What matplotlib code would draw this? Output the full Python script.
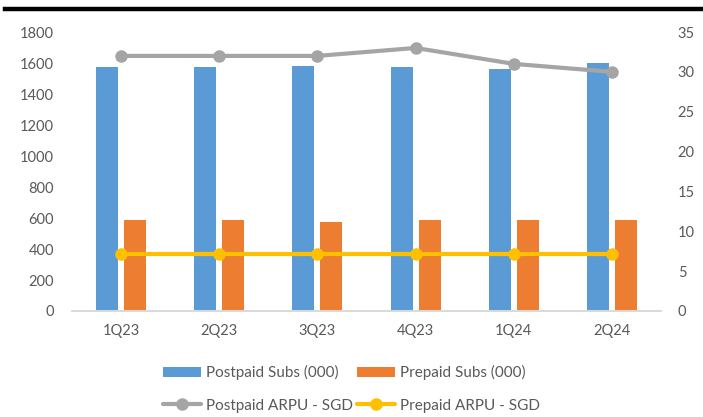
import matplotlib

matplotlib.use("Agg")
import matplotlib.pyplot as plt
import numpy as np
from matplotlib.lines import Line2D

quarters = ["1Q23", "2Q23", "3Q23", "4Q23", "1Q24", "2Q24"]
postpaid_subs = [1572, 1572, 1578, 1572, 1562, 1598]
prepaid_subs = [590, 590, 573, 585, 585, 590]
postpaid_arpu = [32, 32, 32, 33, 31, 30]
prepaid_arpu = [7.1, 7.1, 7.1, 7.1, 7.1, 7.1]

BLUE = "#5B9BD5"
ORANGE = "#ED7D31"
GREY = "#A5A5A5"
YELLOW = "#FFC000"
TEXT = "#595959"

plt.rcParams["font.family"] = ["Lato", "DejaVu Sans"]

fig = plt.figure(figsize=(7.03, 4.17), dpi=100)
ax = fig.add_axes([72 / 703, 1 - 311 / 417, (661 - 72) / 703, (311 - 32) / 417])
ax2 = ax.twinx()

x = np.arange(len(quarters))
width = 0.224
offset = 0.142
ax.bar(x - offset, postpaid_subs, width, color=BLUE, label="Postpaid Subs (000)")
ax.bar(x + offset, prepaid_subs, width, color=ORANGE, label="Prepaid Subs (000)")

ax2.plot(x, postpaid_arpu, color=GREY, lw=3, marker="o", ms=8,
         solid_capstyle="round", label="Postpaid ARPU - SGD")
ax2.plot(x, prepaid_arpu, color=YELLOW, lw=3, marker="o", ms=8,
         solid_capstyle="round", label="Prepaid ARPU - SGD")

ax.set_xlim(-0.5, len(quarters) - 0.5)
ax.set_ylim(0, 1800)
ax.set_yticks(range(0, 1801, 200))
ax2.set_ylim(0, 35)
ax2.set_yticks(range(0, 36, 5))
ax.set_xticks(x, quarters)

for a in (ax, ax2):
    for side in ("top", "left", "right"):
        a.spines[side].set_visible(False)
    a.spines["bottom"].set_color("#D9D9D9")
    a.spines["bottom"].set_linewidth(1.2)
    a.tick_params(length=0, labelsize=10.5, labelcolor=TEXT)
ax.tick_params(axis="y", pad=13)
ax.tick_params(axis="x", pad=9)
ax2.tick_params(axis="y", pad=12)

# legend: bars on the first row, lines on the second
h1, l1 = ax.get_legend_handles_labels()
h2, l2 = ax2.get_legend_handles_labels()
handles = [h1[0], h2[0], h1[1], h2[1]]
labels = [l1[0], l2[0], l1[1], l2[1]]
fig.legend(handles, labels, ncol=2, loc="center", bbox_to_anchor=(0.5, 1 - 389 / 417),
           frameon=False, fontsize=11, labelcolor=TEXT, handlelength=2.5,
           handletextpad=0.3, columnspacing=0.3, labelspacing=1.2, markerscale=1.0)

# heavy rule at the top
fig.add_artist(Line2D([5 / 703, 1], [1 - 9 / 417] * 2, color="black", lw=3.2,
                      transform=fig.transFigure))

fig.savefig("out.png", dpi=100)
